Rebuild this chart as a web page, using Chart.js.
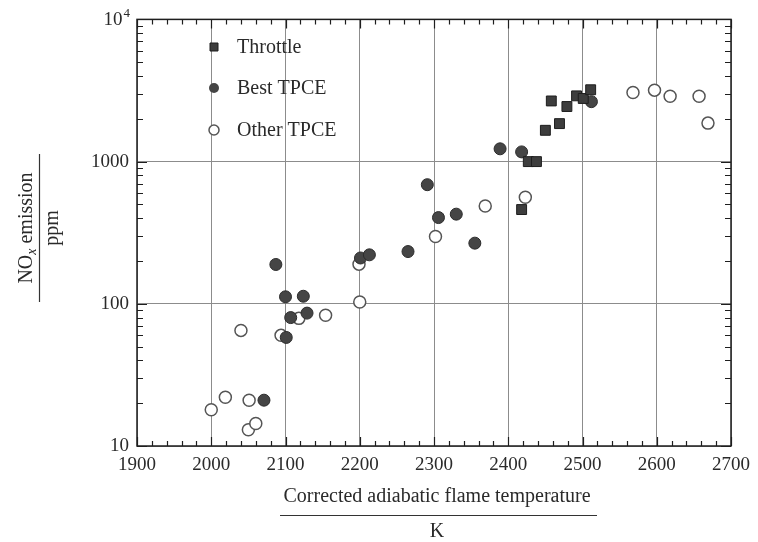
<!DOCTYPE html>
<html lang="en">
<head>
<meta charset="UTF-8">
<title>NOx emission vs corrected adiabatic flame temperature</title>
<script src="https://cdn.jsdelivr.net/npm/chart.js"></script>
<style>
  html, body { margin: 0; padding: 0; background: #fff; }
</style>
</head>
<body>
<canvas id="noxChart" width="758" height="542"></canvas>
<script>
// Corrected adiabatic flame temperature (K) vs NOx emission (ppm)
const throttleTemp = [2418, 2427, 2438, 2450, 2458, 2469, 2479, 2492, 2501, 2511];
const throttleNox  = [460, 1000, 1000, 1660, 2670, 1850, 2440, 2900, 2780, 3200];

const bestTemp = [2071, 2087, 2100, 2101, 2107, 2124, 2129, 2201, 2213, 2265, 2291, 2306, 2330, 2355, 2389, 2418, 2512];
const bestNox  = [21, 189, 112, 58, 80, 113, 86, 210, 221, 233, 688, 404, 427, 267, 1230, 1170, 2640];

const otherTemp = [2000, 2019, 2040, 2050, 2051, 2060, 2094, 2118, 2154, 2199, 2200, 2302, 2369, 2423, 2568, 2597, 2618, 2657, 2669];
const otherNox  = [18, 22, 65, 13, 21, 14.4, 60, 79, 83, 190, 103, 297, 487, 562, 3060, 3180, 2880, 2880, 1865];

const xTicks = [1900, 2000, 2100, 2200, 2300, 2400, 2500, 2600, 2700];
const yTicks = [10, 100, 1000, 10000];

const SERIF = "'Liberation Serif', 'Times New Roman', serif";
const INK = '#2a2a2a';

function pairs(xs, ys) {
    return xs.map((x, i) => ({ x: x, y: ys[i] }));
}

// frame, minor ticks, legend and the two fraction-style axis titles
const decorations = {
    id: 'decorations',
    afterDraw(chart) {
        const ctx = chart.ctx;
        const area = chart.chartArea;
        const xs = chart.scales.x;
        const ys = chart.scales.y;

        ctx.save();
        ctx.strokeStyle = '#1e1e1e';
        ctx.lineWidth = 1.5;
        ctx.strokeRect(area.left, area.top, area.right - area.left, area.bottom - area.top);

        // temperature ticks every 20 K on bottom and top edges
        ctx.lineWidth = 1.2;
        for (let t = 1900; t <= 2700; t += 20) {
            const px = Math.round(xs.getPixelForValue(t)) + 0.5;
            const len = t % 100 === 0 ? 9 : 5;
            ctx.beginPath();
            ctx.moveTo(px, area.bottom);
            ctx.lineTo(px, area.bottom - len);
            ctx.moveTo(px, area.top);
            ctx.lineTo(px, area.top + len);
            ctx.stroke();
        }
        // log ticks on left and right edges
        for (let d = 10; d <= 10000; d *= 10) {
            for (let m = 1; m <= 9; m++) {
                const v = d * m;
                if (v > 10000) break;
                const py = Math.round(ys.getPixelForValue(v)) + 0.5;
                const len = m === 1 ? 10 : 6;
                ctx.beginPath();
                ctx.moveTo(area.left, py);
                ctx.lineTo(area.left + len, py);
                ctx.moveTo(area.right, py);
                ctx.lineTo(area.right - len, py);
                ctx.stroke();
            }
        }

        // top label 10^4
        ctx.fillStyle = INK;
        ctx.textBaseline = 'middle';
        ctx.textAlign = 'left';
        const topY = ys.getPixelForValue(10000);
        ctx.font = '19px ' + SERIF;
        const w10 = ctx.measureText('10').width;
        ctx.font = '13px ' + SERIF;
        const w4 = ctx.measureText('4').width;
        const lx = area.left - 8 - w10 - w4;
        ctx.font = '19px ' + SERIF;
        ctx.fillText('10', lx, topY + 1);
        ctx.font = '13px ' + SERIF;
        ctx.fillText('4', lx + w10 + 1, topY - 6);

        // legend
        const legendRows = [
            { y: 47, text: 'Throttle', kind: 'square' },
            { y: 88, text: 'Best TPCE', kind: 'dot' },
            { y: 130, text: 'Other TPCE', kind: 'ring' }
        ];
        legendRows.forEach(row => {
            const mx = 214;
            ctx.beginPath();
            if (row.kind === 'square') {
                ctx.rect(mx - 4, row.y - 4, 8, 8);
                ctx.fillStyle = '#3d3d3d';
                ctx.fill();
                ctx.strokeStyle = '#1e1e1e';
                ctx.lineWidth = 1;
                ctx.stroke();
            } else if (row.kind === 'dot') {
                ctx.arc(mx, row.y, 5, 0, Math.PI * 2);
                ctx.fillStyle = '#454545';
                ctx.fill();
            } else {
                ctx.arc(mx, row.y, 5, 0, Math.PI * 2);
                ctx.fillStyle = '#fff';
                ctx.fill();
                ctx.strokeStyle = '#555';
                ctx.lineWidth = 1.5;
                ctx.stroke();
            }
            ctx.fillStyle = INK;
            ctx.font = '20px ' + SERIF;
            ctx.textAlign = 'left';
            ctx.fillText(row.text, 237, row.y + 1);
        });

        // x title: quantity over unit
        ctx.textAlign = 'center';
        ctx.font = '20px ' + SERIF;
        ctx.fillText('Corrected adiabatic flame temperature', 437, 497);
        ctx.strokeStyle = '#333';
        ctx.lineWidth = 1.2;
        ctx.beginPath();
        ctx.moveTo(280, 515.5);
        ctx.lineTo(597, 515.5);
        ctx.stroke();
        ctx.fillText('K', 437, 532);

        // y title, rotated
        ctx.save();
        ctx.translate(27, 228);
        ctx.rotate(-Math.PI / 2);
        ctx.font = '20px ' + SERIF;
        const wNO = ctx.measureText('NO').width;
        const wRest = ctx.measureText(' emission').width;
        ctx.font = 'italic 14px ' + SERIF;
        const wx = ctx.measureText('x').width;
        let cx = -(wNO + wx + wRest) / 2;
        ctx.textAlign = 'left';
        ctx.font = '20px ' + SERIF;
        ctx.fillText('NO', cx, 0);
        cx += wNO;
        ctx.font = 'italic 14px ' + SERIF;
        ctx.fillText('x', cx, 5);
        cx += wx;
        ctx.font = '20px ' + SERIF;
        ctx.fillText(' emission', cx, 0);
        ctx.restore();

        ctx.beginPath();
        ctx.moveTo(39.5, 154);
        ctx.lineTo(39.5, 302);
        ctx.stroke();

        ctx.save();
        ctx.translate(53, 228);
        ctx.rotate(-Math.PI / 2);
        ctx.textAlign = 'center';
        ctx.font = '20px ' + SERIF;
        ctx.fillText('ppm', 0, 0);
        ctx.restore();

        ctx.restore();
    }
};

const ctx = document.getElementById('noxChart').getContext('2d');
new Chart(ctx, {
    type: 'scatter',
    data: {
        datasets: [{
            label: 'Throttle',
            data: pairs(throttleTemp, throttleNox),
            pointStyle: 'rect',
            pointRadius: 7,
            backgroundColor: '#3d3d3d',
            borderColor: '#1e1e1e',
            borderWidth: 1
        }, {
            label: 'Best TPCE',
            data: pairs(bestTemp, bestNox),
            pointStyle: 'circle',
            pointRadius: 6,
            backgroundColor: '#454545',
            borderColor: '#2c2c2c',
            borderWidth: 1
        }, {
            label: 'Other TPCE',
            data: pairs(otherTemp, otherNox),
            pointStyle: 'circle',
            pointRadius: 6,
            backgroundColor: '#ffffff',
            borderColor: '#555555',
            borderWidth: 1.5
        }]
    },
    options: {
        responsive: false,
        animation: false,
        layout: { padding: { top: 15, right: 26, left: 0, bottom: 0 } },
        plugins: {
            legend: { display: false },
            tooltip: { enabled: false }
        },
        scales: {
            x: {
                type: 'linear',
                min: 1900,
                max: 2700,
                afterBuildTicks: s => { s.ticks = xTicks.map(v => ({ value: v })); },
                afterFit: s => { s.height = 96; },
                border: { display: false },
                grid: { color: '#8c8c8c', lineWidth: 1, drawTicks: false },
                ticks: {
                    font: { family: SERIF, size: 19 },
                    color: INK,
                    padding: 8,
                    maxRotation: 0,
                    autoSkip: false,
                    callback: v => String(v)
                }
            },
            y: {
                type: 'logarithmic',
                min: 10,
                max: 10000,
                afterBuildTicks: s => { s.ticks = yTicks.map(v => ({ value: v })); },
                afterFit: s => { s.width = 137; },
                border: { display: false },
                grid: { color: '#8c8c8c', lineWidth: 1, drawTicks: false },
                ticks: {
                    font: { family: SERIF, size: 19 },
                    color: INK,
                    padding: 8,
                    autoSkip: false,
                    callback: v => (v === 10000 ? '' : String(v))
                }
            }
        }
    },
    plugins: [decorations]
});
</script>
</body>
</html>
